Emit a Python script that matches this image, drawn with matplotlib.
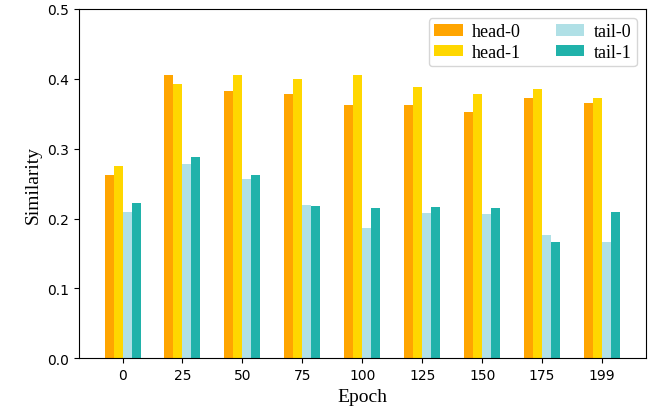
import numpy as np
import matplotlib
matplotlib.use("Agg")
import matplotlib.pyplot as plt

# 데이터
epochs = ["0", "25", "50", "75", "100", "125", "150", "175", "199"]
head_0 = [0.263, 0.405, 0.383, 0.378, 0.363, 0.362, 0.353, 0.373, 0.365]
head_1 = [0.275, 0.393, 0.405, 0.400, 0.406, 0.389, 0.378, 0.385, 0.372]
tail_0 = [0.209, 0.278, 0.256, 0.219, 0.186, 0.208, 0.206, 0.176, 0.166]
tail_1 = [0.223, 0.288, 0.263, 0.218, 0.215, 0.216, 0.215, 0.166, 0.209]

series = [("head-0", head_0, "orange"), ("head-1", head_1, "gold"),
          ("tail-0", tail_0, "powderblue"), ("tail-1", tail_1, "lightseagreen")]

fig = plt.figure(figsize=(6.51, 4.14), dpi=100)
ax = fig.add_axes([0.121, 0.132, 0.871, 0.844])

x = np.arange(len(epochs))
w = 0.15
for i, (name, vals, color) in enumerate(series):
    ax.bar(x + (i - 1.5) * w, vals, w, color=color, label=name)

ax.set_xticks(x)
ax.set_xticklabels(epochs)
ax.set_ylim(0, 0.5)
ax.set_xlabel("Epoch", family="Liberation Serif", fontsize=14)
ax.set_ylabel("Similarity", family="Liberation Serif", fontsize=14)
ax.legend(ncol=2, loc="upper right", prop={"family": "Liberation Serif", "size": 13},
          handlelength=1.6, handleheight=0.6, handletextpad=0.5, labelspacing=0.2,
          columnspacing=1.9, borderpad=0.3)

fig.savefig("out.png", dpi=100)
